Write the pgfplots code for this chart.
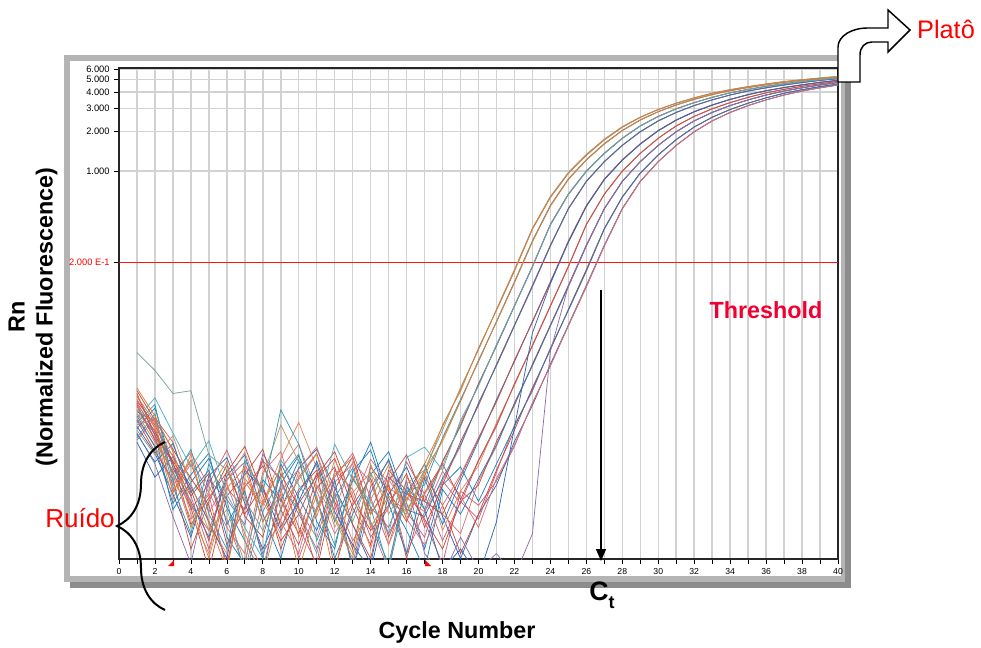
\documentclass[border=0pt]{standalone}
\usepackage{fontspec}
\setmainfont{Liberation Sans}
\usepackage{pgfplots}
\usepackage{pgfplotstable}
\pgfplotsset{compat=1.18}
\usetikzlibrary{arrows.meta,decorations.pathreplacing}

\definecolor{cOrange}{RGB}{224,123,57}
\definecolor{cSage}{RGB}{127,160,143}
\definecolor{cTan}{RGB}{196,140,80}
\definecolor{cTeal}{RGB}{58,154,176}
\definecolor{cKhaki}{RGB}{176,154,106}
\definecolor{cBrick}{RGB}{192,80,77}
\definecolor{cSalmon}{RGB}{226,134,96}
\definecolor{cTBlue}{RGB}{31,127,191}
\definecolor{cDBlue}{RGB}{52,101,175}
\definecolor{cRed}{RGB}{208,69,58}
\definecolor{cPink}{RGB}{217,112,122}
\definecolor{cPurple}{RGB}{140,111,168}
\definecolor{cRose}{RGB}{200,96,122}
\definecolor{cCyan}{RGB}{79,176,198}
\definecolor{thr}{RGB}{240,0,50}
\definecolor{frameL}{RGB}{180,180,180}
\definecolor{frameD}{RGB}{140,140,140}

% one row per well: Rn at cycles 1..40
\pgfplotstableread{
id c1 c2 c3 c4 c5 c6 c7 c8 c9 c10 c11 c12 c13 c14 c15 c16 c17 c18 c19 c20 c21 c22 c23 c24 c25 c26 c27 c28 c29 c30 c31 c32 c33 c34 c35 c36 c37 c38 c39 c40
c 1 2 3 4 5 6 7 8 9 10 11 12 13 14 15 16 17 18 19 20 21 22 23 24 25 26 27 28 29 30 31 32 33 34 35 36 37 38 39 40
k1 0.019 0.012 0.0035 0.0062 0.0021 0.0009 0.0042 0.0028 0.0055 0.0016 0.0033 0.0008 0.0047 0.0024 0.0038 0.0031 0.0058 0.0112 0.0215 0.0440 0.0868 0.174 0.362 0.632 0.964 1.326 1.736 2.164 2.57 2.946 3.292 3.616 3.92 4.172 4.404 4.61 4.81 4.97 5.12 5.27
k2 0.041 0.030 0.020 0.021 0.0068 0.0052 0.0031 0.0018 0.0040 0.0026 0.0012 0.0035 0.0021 0.0049 0.0030 0.0024 0.0052 0.0105 0.0222 0.0430 0.0880 0.177 0.366 0.640 0.975 1.34 1.75 2.18 2.58 2.95 3.30 3.62 3.93 4.18 4.41 4.62 4.82 4.98 5.13 5.28
k3 0.014 0.0085 0.0052 0.0019 0.0036 0.0061 0.0015 0.0008 0.0027 0.0044 0.0069 0.0023 0.0012 0.0031 0.0057 0.0022 0.0050 0.0115 0.0208 0.0445 0.0860 0.171 0.358 0.625 0.955 1.315 1.72 2.15 2.56 2.94 3.28 3.60 3.91 4.16 4.39 4.60 4.80 4.96 5.11 5.26
k4 0.022 0.0135 0.0072 0.0029 0.0011 0.0038 0.0054 0.0021 0.0034 0.0009 0.0026 0.0048 0.0065 0.0019 0.0033 0.0025 0.0047 0.0090 0.0174 0.0356 0.0705 0.1414 0.290 0.542 0.865 1.215 1.61 2.035 2.45 2.835 3.19 3.52 3.83 4.10 4.335 4.55 4.75 4.925 5.075 5.225
k5 0.012 0.0165 0.0043 0.0075 0.0024 0.0013 0.0062 0.0035 0.0150 0.0082 0.0030 0.0014 0.0045 0.0027 0.0009 0.0036 0.0040 0.0092 0.0180 0.0350 0.0712 0.143 0.294 0.548 0.872 1.22 1.62 2.04 2.46 2.84 3.20 3.53 3.84 4.11 4.34 4.56 4.76 4.93 5.08 5.23
k6 0.0105 0.0068 0.0095 0.0041 0.0018 0.0026 0.0010 0.0047 0.0115 0.0060 0.0039 0.0022 0.0011 0.0058 0.0024 0.0041 0.0052 0.0086 0.0176 0.0360 0.0700 0.140 0.287 0.538 0.860 1.21 1.60 2.03 2.44 2.83 3.18 3.51 3.82 4.09 4.33 4.54 4.74 4.92 5.07 5.22
k7 0.017 0.0102 0.0058 0.0033 0.0049 0.0014 0.0027 0.0063 0.0019 0.0037 0.0052 0.0009 0.0028 0.0045 0.0016 0.0034 0.0030 0.0060 0.0115 0.0236 0.0465 0.0933 0.1866 0.390 0.665 0.997 1.363 1.778 2.207 2.61 2.983 3.326 3.648 3.95 4.196 4.427 4.63 4.83 4.985 5.135
k8 0.015 0.0118 0.0066 0.0024 0.0012 0.0043 0.0071 0.0030 0.0017 0.0051 0.0023 0.0062 0.0034 0.0013 0.0044 0.0027 0.0034 0.0056 0.0120 0.0230 0.0470 0.0940 0.188 0.394 0.670 1.003 1.37 1.785 2.215 2.62 2.99 3.33 3.655 3.955 4.20 4.43 4.635 4.835 4.99 5.14
k9 0.0092 0.0140 0.0039 0.0017 0.0058 0.0031 0.0008 0.0025 0.0046 0.0069 0.0015 0.0032 0.0054 0.0021 0.0010 0.0039 0.0026 0.0061 0.0112 0.0238 0.0460 0.0925 0.185 0.386 0.660 0.99 1.355 1.77 2.20 2.60 2.975 3.32 3.64 3.945 4.19 4.42 4.625 4.825 4.98 5.13
k10 0.0135 0.0078 0.0029 0.0048 0.0070 0.0020 0.0036 0.0011 0.0058 0.0032 0.0018 0.0044 0.0009 0.0035 0.0063 0.0026 0.0023 0.0045 0.0081 0.0168 0.0328 0.0660 0.132 0.269 0.515 0.832 1.178 1.568 1.992 2.41 2.798 3.156 3.488 3.80 4.076 4.312 4.53 4.73 4.91 5.06
k11 0.020 0.0095 0.0061 0.0037 0.0015 0.0052 0.0024 0.0040 0.0013 0.0029 0.0047 0.0072 0.0031 0.0018 0.0028 0.0049 0.0019 0.0040 0.0086 0.0162 0.0335 0.0668 0.134 0.272 0.519 0.837 1.184 1.575 2.00 2.42 2.805 3.165 3.495 3.81 4.085 4.32 4.54 4.74 4.92 5.07
k12 0.0115 0.0128 0.0047 0.0022 0.0034 0.0009 0.0056 0.0038 0.0021 0.0012 0.0040 0.0026 0.0060 0.0042 0.0017 0.0032 0.0025 0.0043 0.0079 0.0170 0.0325 0.0655 0.130 0.266 0.511 0.827 1.172 1.562 1.985 2.40 2.79 3.15 3.48 3.79 4.07 4.305 4.525 4.725 4.905 5.055
k13 0.016 0.0088 0.0050 0.0027 0.0009 0.0033 0.0048 0.0075 0.0026 0.0014 0.0038 0.0055 0.0020 0.0011 0.0043 0.0068 0.0030 0.0024 0.0046 0.0090 0.0175 0.0356 0.0705 0.1414 0.290 0.542 0.865 1.215 1.61 2.035 2.45 2.835 3.19 3.52 3.83 4.10 4.335 4.55 4.75 4.925
k14 0.0098 0.0060 0.0083 0.0035 0.0052 0.0016 0.0010 0.0044 0.0030 0.0062 0.0021 0.0013 0.0051 0.0074 0.0029 0.0012 0.0045 0.0020 0.0043 0.0087 0.0180 0.0350 0.0712 0.143 0.287 0.538 0.860 1.21 1.605 2.03 2.445 2.83 3.185 3.515 3.825 4.095 4.33 4.545 4.745 4.92
k15 0.018 0.0110 0.0036 0.0058 0.0025 0.0041 0.0017 0.0009 0.0036 0.0053 0.0078 0.0033 0.0015 0.0026 0.0050 0.0022 0.0014 0.0028 0.0048 0.0092 0.0172 0.0360 0.0700 0.140 0.293 0.546 0.87 1.22 1.615 2.04 2.455 2.84 3.195 3.525 3.835 4.105 4.34 4.555 4.755 4.93
k16 0.0125 0.0072 0.0044 0.0013 0.0030 0.0057 0.0023 0.0016 0.0049 0.0027 0.0009 0.0037 0.0066 0.0024 0.0040 0.0011 0.0035 0.0058 0.0031 0.0062 0.0115 0.0236 0.0465 0.0933 0.1866 0.390 0.665 0.997 1.363 1.778 2.207 2.61 2.983 3.326 3.648 3.95 4.196 4.427 4.63 4.83
k17 0.0140 0.0105 0.0031 0.0069 0.0020 0.0012 0.0045 0.0029 0.0064 0.0120 0.0054 0.0019 0.0035 0.0050 0.0014 0.0030 0.0052 0.0018 0.0036 0.0056 0.0120 0.0230 0.0470 0.0940 0.188 0.393 0.668 1.00 1.367 1.782 2.21 2.615 2.988 3.33 3.652 3.955 4.20 4.43 4.635 4.835
k18 0.0165 0.0090 0.0068 0.0026 0.0041 0.0074 0.0033 0.0012 0.0022 0.0046 0.0070 0.0028 0.0010 0.0039 0.0061 0.0025 0.0016 0.0043 0.0029 0.0061 0.0112 0.0238 0.0460 0.0925 0.185 0.388 0.662 0.994 1.36 1.775 2.204 2.605 2.98 3.322 3.645 3.946 4.192 4.424 4.627 4.826
k19 0.0108 0.0155 0.0054 0.0030 0.0016 0.0047 0.0068 0.0024 0.0011 0.0035 0.0058 0.0021 0.0043 0.0085 0.0032 0.0018 0.0009 0.0037 0.0024 0.0045 0.0081 0.0168 0.0328 0.0660 0.132 0.269 0.515 0.832 1.178 1.568 1.992 2.41 2.798 3.156 3.488 3.80 4.076 4.312 4.53 4.73
k20 0.021 0.0125 0.0075 0.0045 0.0028 0.0010 0.0039 0.0056 0.0031 0.0017 0.0045 0.0064 0.0027 0.0014 0.0052 0.0036 0.0022 0.0013 0.0030 0.0040 0.0086 0.0162 0.0335 0.0668 0.134 0.272 0.518 0.836 1.182 1.572 1.996 2.415 2.802 3.16 3.492 3.805 4.08 4.316 4.535 4.735
k21 0.0128 0.0080 0.0040 0.0062 0.0035 0.0019 0.0012 0.0050 0.0072 0.0026 0.0016 0.0042 0.0058 0.0020 0.0009 0.0046 0.0030 0.0024 0.0017 0.0043 0.0079 0.0170 0.0325 0.0655 0.130 0.266 0.512 0.828 1.174 1.564 1.988 2.405 2.794 3.152 3.484 3.796 4.072 4.308 4.526 4.726
k22 0.0150 0.0098 0.0026 0.0042 0.0064 0.0027 0.0015 0.0008 0.0041 0.0067 0.0032 0.0011 0.0024 0.0048 0.0072 0.0029 0.0013 0.0040 0.0055 0.0030 0.0058 0.0112 0.0215 0.0440 0.0868 0.174 0.362 0.632 0.964 1.326 1.736 2.164 2.57 2.946 3.292 3.616 3.92 4.172 4.404 4.61
k23 0.0175 0.0115 0.0060 0.0020 0.0032 0.0050 0.0079 0.0034 0.0015 0.0024 0.0049 0.0030 0.0013 0.0055 0.0036 0.0021 0.0047 0.0028 0.0012 0.0024 0.0052 0.0105 0.0222 0.0430 0.0880 0.177 0.365 0.636 0.968 1.33 1.74 2.168 2.574 2.95 3.296 3.62 3.924 4.176 4.408 4.614
k24 0.0088 0.0130 0.0085 0.0033 0.0013 0.0038 0.0026 0.0061 0.0045 0.0019 0.0010 0.0052 0.0037 0.0016 0.0027 0.0060 0.0034 0.0015 0.0030 0.0022 0.0050 0.0115 0.0208 0.0445 0.0860 0.171 0.359 0.628 0.96 1.322 1.732 2.16 2.566 2.942 3.288 3.612 3.916 4.168 4.40 4.606
k25 0.0190 0.0108 0.0049 0.0071 0.0039 0.0022 0.0009 0.0030 0.0053 0.0082 0.0036 0.0017 0.0029 0.0063 0.0041 0.0012 0.0025 0.0051 0.0033 0.0019 0.0045 0.0081 0.0168 0.0328 0.0660 0.132 0.269 0.515 0.832 1.178 1.568 1.992 2.41 2.798 3.156 3.488 3.80 4.076 4.312 4.53
k26 0.0112 0.0070 0.0034 0.0016 0.0047 0.0065 0.0029 0.0013 0.0026 0.0054 0.0075 0.0038 0.0020 0.0010 0.0046 0.0034 0.0058 0.0023 0.0011 0.0024 0.0040 0.0086 0.0162 0.0335 0.0668 0.134 0.272 0.519 0.836 1.182 1.572 1.996 2.415 2.802 3.16 3.492 3.805 4.08 4.316 4.535
k27 0.0145 0.0122 0.0058 0.0028 0.0018 0.0044 0.0060 0.0021 0.0038 0.0011 0.0027 0.0046 0.0070 0.0032 0.0014 0.0039 0.0021 0.0010 0.0036 0.0028 0.0043 0.0079 0.0170 0.0325 0.0655 0.130 0.266 0.511 0.828 1.174 1.564 1.988 2.405 2.794 3.152 3.484 3.796 4.072 4.308 4.526
k28 0.0100 0.0058 0.0023 0.0010 0.0044 0.0031 0.0020 0.0069 0.0042 0.0024 0.0013 0.0035 0.0009 0.0027 0.0019 0.0043 0.0012 0.0008 0.0016 0.0009 0.0012 0.0008 0.0017 0.0420 0.133 0.270 0.516 0.834 1.18 1.57 1.994 2.412 2.80 3.158 3.49 3.802 4.078 4.314 4.532 4.732
k29 0.0085 0.0046 0.0066 0.0039 0.0021 0.0011 0.0052 0.0037 0.0018 0.0030 0.0061 0.0025 0.0014 0.0009 0.0034 0.0055 0.0026 0.0009 0.0013 0.0008 0.0021 0.0110 0.0580 0.138 0.286 0.536 0.858 1.208 1.60 2.025 2.44 2.825 3.18 3.51 3.82 4.09 4.325 4.54 4.74 4.915
k30 0.0130 0.0185 0.0100 0.0055 0.0087 0.0034 0.0019 0.0011 0.0062 0.0040 0.0025 0.0082 0.0044 0.0030 0.0017 0.0065 0.0078 0.0052 0.0125 0.0228 0.0472 0.0928 0.187 0.388 0.662 0.993 1.36 1.774 2.203 2.606 2.978 3.322 3.644 3.946 4.192 4.423 4.626 4.826 4.982 5.132
}\raw
\pgfplotstabletranspose[colnames from=id]{\data}{\raw}

\begin{document}
\begin{tikzpicture}
% frame (pixel units, y downwards)
\begin{scope}[x=0.75pt,y=-0.75pt]
\path[use as bounding box] (0,0) rectangle (981,648);
\fill[frameD] (70,61) rectangle (851,588);
\fill[frameL] (64,55) rectangle (845,582);
\fill[white] (70,61) rectangle (841,576);
\end{scope}

\begin{axis}[
  at={(89.25pt,-419.25pt)}, anchor=south west,
  scale only axis, width=539.25pt, height=368.25pt,
  xmin=0, xmax=40,
  ymode=log, ymin=0.00109, ymax=6.11,
  xtick={0,2,...,40}, minor xtick={1,3,...,39},
  ytick={0.2,1,2,3,4,5,6},
  yticklabels={\textcolor{red}{2.000 E-1},1.000,2.000,3.000,4.000,5.000,6.000},
  yminorticks=false,
  xmajorgrids, xminorgrids, ymajorgrids,
  grid style={draw=gray!35, line width=1.1pt},
  minor grid style={draw=gray!35, line width=1.1pt},
  tick align=outside, tick pos=left,
  major tick length=3.5pt, minor tick length=3.5pt,
  tick style={black, line width=0.5pt},
  axis line style={draw=black!85, line width=1.1pt},
  /pgf/number format/assume math mode=true,
  xticklabel style={font=\fontsize{6.5}{7}\selectfont},
  yticklabel style={font=\fontsize{7}{8}\selectfont},
  every axis plot/.append style={line width=0.55pt, mark=none},
]
\addplot[draw={rgb,255:red,255;green,20;blue,20}, line width=0.8pt] coordinates {(0,0.2) (40,0.2)};

\addplot[cRose]   table[x=c,y=k27]{\data};
\addplot[cDBlue]  table[x=c,y=k26]{\data};
\addplot[cPink]   table[x=c,y=k25]{\data};
\addplot[cRose]   table[x=c,y=k24]{\data};
\addplot[cRed]    table[x=c,y=k23]{\data};
\addplot[cTBlue]  table[x=c,y=k22]{\data};
\addplot[cPink]   table[x=c,y=k21]{\data};
\addplot[cRed]    table[x=c,y=k20]{\data};
\addplot[cTBlue]  table[x=c,y=k19]{\data};
\addplot[cPurple] table[x=c,y=k28]{\data};
\addplot[cRose]   table[x=c,y=k18]{\data};
\addplot[cSalmon] table[x=c,y=k17]{\data};
\addplot[cBrick]  table[x=c,y=k16]{\data};
\addplot[cPink]   table[x=c,y=k15]{\data};
\addplot[cTBlue]  table[x=c,y=k14]{\data};
\addplot[cBrick]  table[x=c,y=k13]{\data};
\addplot[cDBlue]  table[x=c,y=k29]{\data};
\addplot[cPink]   table[x=c,y=k12]{\data};
\addplot[cRed]    table[x=c,y=k11]{\data};
\addplot[cTBlue]  table[x=c,y=k10]{\data};
\addplot[cTeal]   table[x=c,y=k9]{\data};
\addplot[cSalmon] table[x=c,y=k8]{\data};
\addplot[cBrick]  table[x=c,y=k7]{\data};
\addplot[cCyan]   table[x=c,y=k30]{\data};
\addplot[cKhaki]  table[x=c,y=k6]{\data};
\addplot[cTeal]   table[x=c,y=k5]{\data};
\addplot[cOrange] table[x=c,y=k4]{\data};
\addplot[cTan]    table[x=c,y=k3]{\data};
\addplot[cSage]   table[x=c,y=k2]{\data};
\addplot[cOrange] table[x=c,y=k1]{\data};
\end{axis}

% annotations (pixel units, y downwards)
\begin{scope}[x=0.75pt,y=-0.75pt]
\fill[red] (168,566) -- (174,566) -- (174,560) -- cycle;
\fill[red] (425,560) -- (425,566) -- (431,566) -- cycle;

\draw[line width=1.1pt, -{Triangle[width=7.5pt,length=9pt]}] (601,290) -- (601,561);

\draw[line width=1.5pt, decorate, decoration={brace, amplitude=36pt}] (165,610) -- (165,442);

\draw[line width=1.1pt, fill=white, line join=miter]
  (838,82) -- (838,47) .. controls (838,36) and (852,28) .. (867,28) -- (888,28)
  -- (888,10) -- (910,30) -- (888,52) -- (888,42) -- (872,42)
  .. controls (865,42) and (860,47) .. (860,55) -- (860,82) -- cycle;

\node[anchor=base, font=\fontsize{19}{22}\selectfont, text=red] at (946,39) {Platô};
\node[anchor=base, font=\fontsize{19.5}{22}\selectfont, text=red] at (80,527) {Ruído};
\node[anchor=base, font=\bfseries\fontsize{17.5}{21}\selectfont, text=thr] at (766,319) {Threshold};
\node[anchor=base, font=\bfseries\fontsize{17.5}{21}\selectfont] at (457,638) {Cycle Number};
\node[anchor=base, font=\bfseries\fontsize{20}{22}\selectfont] at (602,600)
  {C\raisebox{-6pt}{\fontsize{13.5}{14}\selectfont t}};
\node[rotate=90, align=center, font=\bfseries\fontsize{17.5}{21}\selectfont] at (33,317)
  {Rn\\(Normalized Fluorescence)};
\end{scope}
\end{tikzpicture}
\end{document}
